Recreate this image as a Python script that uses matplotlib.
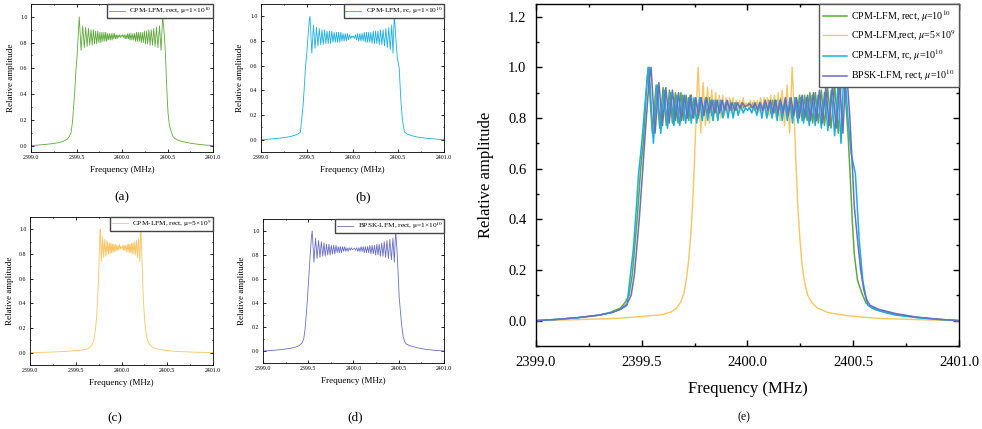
import matplotlib
matplotlib.use("Agg")
import matplotlib.pyplot as plt
from matplotlib.ticker import MultipleLocator, FormatStrFormatter

plt.rcParams['font.family'] = ['Liberation Serif', 'DejaVu Serif']
plt.rcParams['mathtext.fontset'] = 'stix'

# CPM-LFM, rect, mu=1e10 (green)
green_f = [2399.000, 2399.100, 2399.200, 2399.300, 2399.350, 2399.400, 2399.420, 2399.440, 2399.455, 2399.470,
           2399.480, 2399.495, 2399.507, 2399.520,
           2399.530, 2399.550, 2399.568, 2399.585, 2399.601, 2399.616, 2399.631, 2399.645, 2399.659, 2399.672,
           2399.685, 2399.698, 2399.710, 2399.722, 2399.734, 2399.746, 2399.757, 2399.768, 2399.779, 2399.790,
           2399.801, 2399.811, 2399.821, 2399.831, 2399.841, 2399.851, 2399.861, 2399.871, 2399.881, 2399.891,
           2399.901, 2399.910, 2399.919, 2399.928, 2399.937, 2399.946, 2399.955, 2399.964, 2399.973, 2399.982,
           2399.991, 2400.000,
           2400.008, 2400.017, 2400.026, 2400.035, 2400.044, 2400.053, 2400.062, 2400.071, 2400.080, 2400.089,
           2400.099, 2400.109, 2400.119, 2400.129, 2400.139, 2400.149, 2400.159, 2400.169, 2400.179, 2400.190,
           2400.201, 2400.212, 2400.223, 2400.234, 2400.246, 2400.258, 2400.270, 2400.282, 2400.295, 2400.308,
           2400.321, 2400.335, 2400.349, 2400.364, 2400.379, 2400.395, 2400.412, 2400.429, 2400.447,
           2400.455, 2400.465, 2400.475, 2400.485, 2400.495, 2400.505, 2400.520, 2400.540, 2400.560, 2400.580,
           2400.620, 2400.700, 2400.800, 2400.900, 2401.000]
green_a = [0.000, 0.005, 0.012, 0.022, 0.032, 0.050, 0.070, 0.100, 0.180, 0.320,
           0.420, 0.600, 0.700, 0.880,
           1.00, 0.74, 0.93, 0.76, 0.92, 0.77, 0.91, 0.78, 0.90, 0.78,
           0.90, 0.79, 0.89, 0.79, 0.89, 0.80, 0.88, 0.80, 0.88, 0.81,
           0.88, 0.81, 0.88, 0.81, 0.87, 0.82, 0.87, 0.82, 0.87, 0.82,
           0.87, 0.83, 0.87, 0.83, 0.86, 0.83, 0.86, 0.84, 0.86, 0.84,
           0.855, 0.85,
           0.86, 0.84, 0.86, 0.83, 0.86, 0.83, 0.87, 0.83, 0.87, 0.82,
           0.87, 0.82, 0.87, 0.82, 0.87, 0.81, 0.88, 0.81, 0.88, 0.81,
           0.88, 0.80, 0.88, 0.80, 0.89, 0.79, 0.89, 0.79, 0.90, 0.78,
           0.90, 0.78, 0.91, 0.77, 0.92, 0.76, 0.93, 0.74, 1.00,
           0.95, 0.86, 0.74, 0.58, 0.40, 0.26, 0.16, 0.11, 0.07, 0.055,
           0.040, 0.025, 0.013, 0.005, 0.000]

# CPM-LFM, rect, mu=5e9 (yellow)
yellow_f = [2399.000, 2399.200, 2399.400, 2399.520, 2399.600, 2399.640, 2399.665, 2399.685, 2399.700, 2399.712,
            2399.722, 2399.732, 2399.740, 2399.748, 2399.756, 2399.762,
            2399.767, 2399.779, 2399.790, 2399.801, 2399.811, 2399.821, 2399.831, 2399.840, 2399.849, 2399.858,
            2399.867, 2399.875, 2399.883, 2399.891, 2399.899, 2399.907, 2399.915, 2399.923, 2399.931, 2399.939,
            2399.947, 2399.955, 2399.963, 2399.971, 2399.979, 2399.987, 2399.994, 2400.000,
            2400.007, 2400.014, 2400.022, 2400.030, 2400.038, 2400.046, 2400.054, 2400.062, 2400.070, 2400.078,
            2400.086, 2400.094, 2400.102, 2400.110, 2400.118, 2400.127, 2400.136, 2400.145, 2400.154, 2400.164,
            2400.175, 2400.187, 2400.199, 2400.211,
            2400.216, 2400.222, 2400.230, 2400.238, 2400.248, 2400.258, 2400.270, 2400.285, 2400.305, 2400.330,
            2400.380, 2400.470, 2400.600, 2400.800, 2401.000]
yellow_a = [0.000, 0.004, 0.010, 0.018, 0.024, 0.035, 0.050, 0.075, 0.110, 0.170,
            0.240, 0.340, 0.450, 0.600, 0.780, 0.920,
            1.00, 0.74, 0.94, 0.77, 0.92, 0.78, 0.91, 0.79, 0.90, 0.80,
            0.89, 0.80, 0.89, 0.81, 0.88, 0.81, 0.88, 0.82, 0.88, 0.82,
            0.87, 0.83, 0.87, 0.83, 0.88, 0.84, 0.86, 0.85,
            0.84, 0.87, 0.83, 0.87, 0.83, 0.87, 0.82, 0.88, 0.82, 0.88,
            0.81, 0.88, 0.81, 0.89, 0.80, 0.89, 0.80, 0.90, 0.79, 0.91,
            0.77, 0.93, 0.74, 1.00,
            0.920, 0.780, 0.600, 0.450, 0.320, 0.220, 0.150, 0.100, 0.070, 0.050,
            0.032, 0.020, 0.010, 0.004, 0.000]

# CPM-LFM, rc, mu=1e10 (cyan)
cyan_f = [2399.000, 2399.100, 2399.200, 2399.300, 2399.360, 2399.400, 2399.430, 2399.445, 2399.460, 2399.475,
          2399.485, 2399.500, 2399.515, 2399.527,
          2399.535, 2399.555, 2399.573, 2399.590, 2399.606, 2399.622, 2399.637, 2399.652, 2399.666, 2399.680,
          2399.694, 2399.708, 2399.721, 2399.734, 2399.747, 2399.760, 2399.773, 2399.786, 2399.799, 2399.812,
          2399.824, 2399.836, 2399.848, 2399.860, 2399.872, 2399.884, 2399.896, 2399.908, 2399.920, 2399.932,
          2399.944, 2399.956, 2399.968, 2399.980, 2399.991, 2400.000,
          2400.009, 2400.020, 2400.032, 2400.044, 2400.056, 2400.068, 2400.080, 2400.092, 2400.104, 2400.116,
          2400.128, 2400.140, 2400.152, 2400.164, 2400.176, 2400.188, 2400.200, 2400.213, 2400.226, 2400.239,
          2400.252, 2400.265, 2400.278, 2400.292, 2400.306, 2400.320, 2400.334, 2400.349, 2400.364, 2400.380,
          2400.396, 2400.412, 2400.428, 2400.442, 2400.456,
          2400.465, 2400.475, 2400.490, 2400.510, 2400.528, 2400.545, 2400.560, 2400.570, 2400.600, 2400.650,
          2400.700, 2400.800, 2400.900, 2401.000]
cyan_a = [0.000, 0.005, 0.012, 0.022, 0.033, 0.045, 0.060, 0.170, 0.280, 0.450,
          0.580, 0.700, 0.850, 0.970,
          1.00, 0.70, 0.93, 0.74, 0.91, 0.76, 0.90, 0.77, 0.89, 0.77,
          0.89, 0.78, 0.88, 0.78, 0.88, 0.78, 0.88, 0.79, 0.87, 0.79,
          0.87, 0.79, 0.87, 0.79, 0.87, 0.80, 0.86, 0.80, 0.86, 0.80,
          0.86, 0.81, 0.85, 0.82, 0.84, 0.83,
          0.84, 0.82, 0.85, 0.81, 0.86, 0.80, 0.86, 0.80, 0.86, 0.80,
          0.87, 0.79, 0.87, 0.79, 0.87, 0.79, 0.87, 0.78, 0.88, 0.78,
          0.88, 0.78, 0.88, 0.77, 0.89, 0.77, 0.89, 0.76, 0.90, 0.75,
          0.91, 0.73, 0.93, 0.70, 1.00,
          0.92, 0.80, 0.66, 0.58, 0.32, 0.16, 0.09, 0.06, 0.045, 0.032,
          0.022, 0.012, 0.005, 0.000]

# BPSK-LFM, rect, mu=1e10 (purple)
purple_f = [2399.000, 2399.100, 2399.200, 2399.300, 2399.360, 2399.400, 2399.430, 2399.450, 2399.465, 2399.480,
            2399.490, 2399.505, 2399.520, 2399.535,
            2399.544, 2399.563, 2399.581, 2399.598, 2399.614, 2399.630, 2399.645, 2399.660, 2399.674, 2399.688,
            2399.702, 2399.716, 2399.729, 2399.742, 2399.755, 2399.768, 2399.781, 2399.794, 2399.807, 2399.820,
            2399.832, 2399.844, 2399.856, 2399.868, 2399.880, 2399.892, 2399.904, 2399.916, 2399.928, 2399.940,
            2399.952, 2399.964, 2399.976, 2399.988, 2400.000,
            2400.012, 2400.024, 2400.036, 2400.048, 2400.060, 2400.072, 2400.084, 2400.096, 2400.108, 2400.120,
            2400.132, 2400.144, 2400.156, 2400.168, 2400.180, 2400.193, 2400.206, 2400.219, 2400.232, 2400.245,
            2400.258, 2400.271, 2400.284, 2400.298, 2400.312, 2400.326, 2400.340, 2400.355, 2400.370, 2400.386,
            2400.402, 2400.419, 2400.436, 2400.451, 2400.466,
            2400.474, 2400.484, 2400.495, 2400.505, 2400.520, 2400.535, 2400.550, 2400.565, 2400.580, 2400.620,
            2400.700, 2400.800, 2400.900, 2401.000]
purple_a = [0.000, 0.005, 0.012, 0.022, 0.032, 0.045, 0.065, 0.100, 0.180, 0.320,
            0.420, 0.600, 0.780, 0.950,
            1.00, 0.74, 0.94, 0.77, 0.92, 0.78, 0.91, 0.79, 0.90, 0.79,
            0.89, 0.80, 0.89, 0.80, 0.88, 0.81, 0.88, 0.81, 0.88, 0.82,
            0.87, 0.82, 0.87, 0.82, 0.87, 0.83, 0.87, 0.83, 0.86, 0.83,
            0.86, 0.84, 0.86, 0.845, 0.85,
            0.855, 0.84, 0.86, 0.83, 0.86, 0.83, 0.87, 0.83, 0.87, 0.82,
            0.87, 0.82, 0.87, 0.82, 0.88, 0.81, 0.88, 0.81, 0.88, 0.80,
            0.89, 0.80, 0.89, 0.79, 0.90, 0.79, 0.91, 0.78, 0.92, 0.77,
            0.93, 0.76, 0.94, 0.74, 1.00,
            0.92, 0.80, 0.62, 0.45, 0.32, 0.20, 0.12, 0.08, 0.06, 0.045,
            0.028, 0.014, 0.006, 0.000]

colors = {'green': '#5fa83c', 'yellow': '#f7c565', 'cyan': '#1aaee2', 'purple': '#6a6ec4'}

small_labels = ["CPM-LFM, rect, μ=1×10$^{10}$", "CPM-LFM, rc, μ=1×10$^{10}$",
                "CPM-LFM, rect, μ=5×10$^{9}$", "BPSK-LFM, rect, μ=1×10$^{10}$"]
big_labels = [r"CPM-LFM, rect, $\mu$=10$^{10}$", r"CPM-LFM,rect, $\mu$=5×10$^{9}$",
              r"CPM-LFM, rc, $\mu$=10$^{10}$", r"BPSK-LFM, rect, $\mu$=10$^{10}$"]


def style_axes(ax, size, lw, major, minor, pad):
    ax.set_xlim(2399.0, 2401.0)
    ax.xaxis.set_major_locator(MultipleLocator(0.5))
    ax.xaxis.set_minor_locator(MultipleLocator(0.25))
    ax.yaxis.set_major_locator(MultipleLocator(0.2))
    ax.yaxis.set_minor_locator(MultipleLocator(0.1))
    ax.xaxis.set_major_formatter(FormatStrFormatter('%.1f'))
    ax.yaxis.set_major_formatter(FormatStrFormatter('%.1f'))
    ax.tick_params(which='both', direction='in', top=True, right=True, width=lw)
    ax.tick_params(which='major', length=major, labelsize=size, pad=pad)
    ax.tick_params(which='minor', length=minor)
    for s in ax.spines.values():
        s.set_linewidth(lw)


fig = plt.figure(figsize=(9.82, 4.29), dpi=100)

# small panels (a)-(d)
small = [
    ([0.0316, 0.6457, 0.1853, 0.3450], green_f, green_a, 'green', small_labels[0], -0.05),
    ([0.2658, 0.6457, 0.1864, 0.3450], cyan_f, cyan_a, 'cyan', small_labels[1], -0.1),
    ([0.0306, 0.1492, 0.1863, 0.3450], yellow_f, yellow_a, 'yellow', small_labels[2], -0.1),
    ([0.2678, 0.1538, 0.1843, 0.3357], purple_f, purple_a, 'purple', small_labels[3], -0.1),
]
for rect, f, a, c, lab, ylo in small:
    ax = fig.add_axes(rect)
    ax.plot(f, a, color=colors[c], lw=0.6, label=lab)
    ax.set_ylim(ylo, 1.1)
    style_axes(ax, 4.2, 0.6, 2, 1, 2.5)
    ax.set_xlabel("Frequency (MHz)", fontsize=6.5, labelpad=4)
    ax.set_ylabel("Relative amplitude", fontsize=6.5, labelpad=4)
    ax.legend(loc='upper right', fontsize=5.3, frameon=True, fancybox=False, borderaxespad=0,
              edgecolor='#444444', framealpha=1, handlelength=2.2, borderpad=0.2, handletextpad=0.6)

fig.text(0.124, 0.541, "(a)", ha='center', va='center', fontsize=9.5)
fig.text(0.370, 0.541, "(b)", ha='center', va='center', fontsize=9.5)
fig.text(0.117, 0.026, "(c)", ha='center', va='center', fontsize=9.5)
fig.text(0.362, 0.028, "(d)", ha='center', va='center', fontsize=9.5)

# big panel (e)
ax = fig.add_axes([0.5458, 0.1935, 0.4308, 0.7972])
ax.plot(green_f, green_a, color=colors['green'], lw=1.1, label=big_labels[0])
ax.plot(yellow_f, yellow_a, color=colors['yellow'], lw=1.0, label=big_labels[1])
ax.plot(cyan_f, cyan_a, color=colors['cyan'], lw=1.1, label=big_labels[2])
ax.plot(purple_f, purple_a, color=colors['purple'], lw=1.1, label=big_labels[3])
ax.set_ylim(-0.1, 1.25)
style_axes(ax, 10.5, 1.0, 4.5, 2.5, 7)
ax.set_xlabel("Frequency (MHz)", fontsize=12, labelpad=9)
ax.set_ylabel("Relative amplitude", fontsize=12, labelpad=10)
ax.legend(loc='upper right', fontsize=7.2, frameon=True, fancybox=False, borderaxespad=0,
          edgecolor='#555555', framealpha=1, handlelength=2.4, labelspacing=0.45,
          borderpad=0.4, handletextpad=0.4)
fig.text(0.758, 0.028, "(e)", ha='center', va='center', fontsize=8.5)

fig.savefig("out.png", dpi=100)
